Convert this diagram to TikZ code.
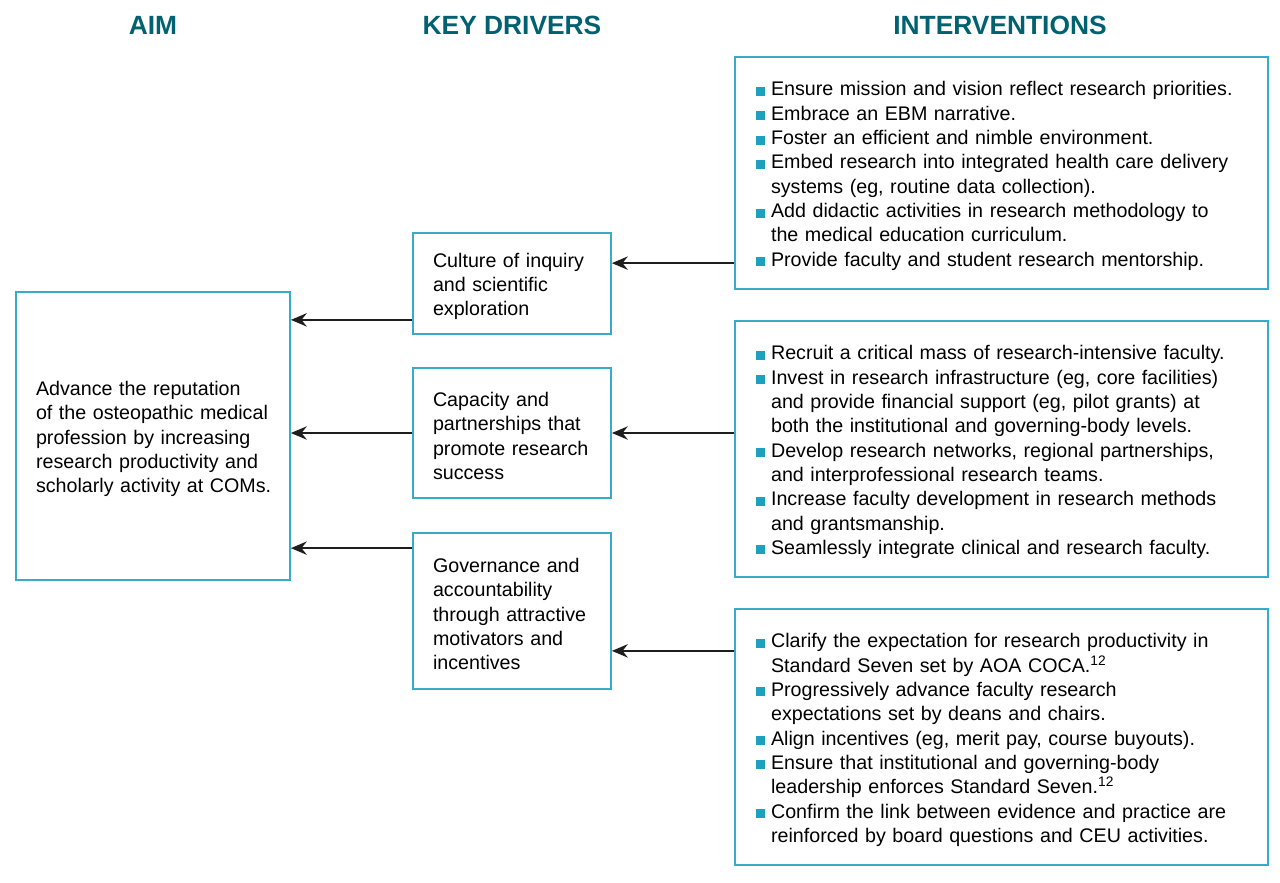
\documentclass[tikz,border=0pt]{standalone}
\usepackage{fontspec}
\setmainfont{Liberation Sans}
\usetikzlibrary{arrows.meta, positioning}

\definecolor{headc}{RGB}{0,98,112}
\definecolor{boxc}{RGB}{58,170,202}
\definecolor{bulc}{RGB}{28,160,190}
\newcommand{\sqb}{\makebox[0.3cm][l]{\textcolor{bulc}{\rule{0.18cm}{0.18cm}}}}
\newcommand{\ind}{\hspace*{0.3cm}}

\begin{document}
\begin{tikzpicture}[x=0.02cm, y=-0.02cm,
    head/.style={font=\fontsize{15}{18}\selectfont\bfseries, text=headc},
    box/.style={draw=boxc, line width=1pt, align=left, inner ysep=0pt,
      font=\fontsize{11.2}{13.85}\selectfont, execute at begin node={\rule{0pt}{11.5pt}}},
    aimbox/.style={box, inner xsep=0.4cm, text width=4.68cm, minimum width=5.48cm, minimum height=5.76cm},
    drvbox/.style={box, inner xsep=0.4cm, text width=3.16cm, minimum width=3.96cm},
    intbox/.style={box, inner xsep=0.42cm, text width=9.82cm, minimum width=10.66cm},
    arr/.style={-{Stealth[length=9pt, width=7.5pt]}, line width=1.5pt, draw={rgb,255:red,30;green,30;blue,30}}]
  \useasboundingbox (0,0) rectangle (1280,882);

  % Column headings
  \node[head] (hAim) at (153,25) {AIM};
  \node[head] (hDrv) at (512,25) {KEY DRIVERS};
  \node[head] (hInt) at (1000,25) {INTERVENTIONS};

  % Aim
  \node[aimbox] (aim) at (153,436) {Advance the reputation\\ of the osteopathic medical\\ profession by increasing\\ research productivity and\\ \mbox{scholarly activity at COMs.}};

  % Key drivers
  \node[drvbox, minimum height=2.02cm] (d1) at (512,283.5) {Culture of inquiry\\ and scientific\\ exploration};
  \node[drvbox, minimum height=2.6cm] (d2) at (512,433) {Capacity and\\ partnerships that\\ promote research\\ success};
  \node[drvbox, minimum height=3.12cm] (d3) at (512,611) {Governance and\\ accountability\\ through attractive\\ motivators and\\ incentives};

  % Interventions
  \node[intbox, minimum height=4.64cm] (i1) at (1001.5,173) {\sqb Ensure mission and vision reflect research priorities.\\
    \sqb Embrace an EBM narrative.\\
    \sqb Foster an efficient and nimble environment.\\
    \sqb Embed research into integrated health care delivery\\
    \ind systems (eg, routine data collection).\\
    \sqb Add didactic activities in research methodology to\\
    \ind the medical education curriculum.\\
    \sqb Provide faculty and student research mentorship.};
  \node[intbox, minimum height=5.12cm] (i2) at (1001.5,449) {\sqb Recruit a critical mass of research-intensive faculty.\\
    \sqb Invest in research infrastructure (eg, core facilities)\\
    \ind and provide financial support (eg, pilot grants) at\\
    \ind both the institutional and governing-body levels.\\
    \sqb Develop research networks, regional partnerships,\\
    \ind and interprofessional research teams.\\
    \sqb Increase faculty development in research methods\\
    \ind and grantsmanship.\\
    \sqb Seamlessly integrate clinical and research faculty.};
  \node[intbox, minimum height=5.12cm] (i3) at (1001.5,737) {\sqb Clarify the expectation for research productivity in\\
    \ind Standard Seven set by AOA COCA.\textsuperscript{12}\\
    \sqb Progressively advance faculty research\\
    \ind expectations set by deans and chairs.\\
    \sqb Align incentives (eg, merit pay, course buyouts).\\
    \sqb Ensure that institutional and governing-body\\
    \ind leadership enforces Standard Seven.\textsuperscript{12}\\
    \sqb Confirm the link between evidence and practice are\\
    \ind reinforced by board questions and CEU activities.};

  % Drivers to aim
  \coordinate (a1) at ([yshift=0.3cm]d1.south west);
  \coordinate (a3) at ([yshift=-0.32cm]d3.north west);
  \draw[arr] (a1) -- (a1 -| aim.east);
  \draw[arr] (d2.west) -- (d2.west -| aim.east);
  \draw[arr] (a3) -- (a3 -| aim.east);

  % Interventions to drivers
  \coordinate (b1) at ([yshift=-0.62cm]d1.north east);
  \coordinate (b3) at ([yshift=0.78cm]d3.south east);
  \draw[arr] (b1 -| i1.west) -- (b1);
  \draw[arr] (d2.east -| i2.west) -- (d2.east);
  \draw[arr] (b3 -| i3.west) -- (b3);
\end{tikzpicture}
\end{document}
